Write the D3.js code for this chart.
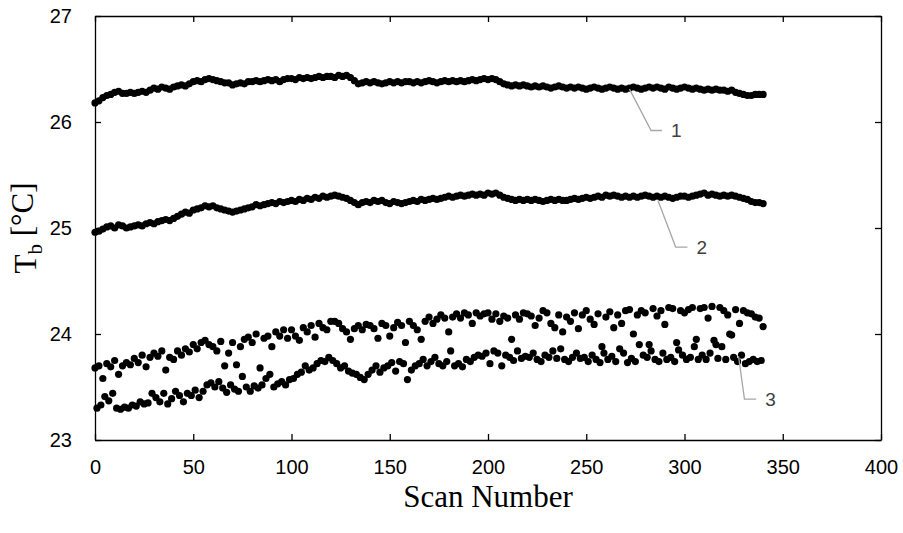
<!DOCTYPE html>
<html>
<head>
<meta charset="utf-8">
<script src="https://cdn.jsdelivr.net/npm/d3@7"></script>
<style>
  html, body { margin: 0; padding: 0; background: #fff; }
  svg { display: block; }
</style>
</head>
<body>
<svg id="chart" width="903" height="533"></svg>
<script>
// ---------------- DATA ----------------
const xTicks = [0, 50, 100, 150, 200, 250, 300, 350, 400];
const yTicks = [23, 24, 25, 26, 27];
const xTitle = "Scan Number";

// Series 1 (every 2nd scan, scans 0..340)
const series1 = [
  26.18, 26.20, 26.23, 26.25, 26.26, 26.28, 26.29, 26.27, 26.27, 26.28,
  26.27, 26.28, 26.29, 26.28, 26.30, 26.32, 26.31, 26.33, 26.32, 26.31,
  26.33, 26.34, 26.35, 26.34, 26.36, 26.38, 26.39, 26.38, 26.40, 26.41,
  26.40, 26.39, 26.38, 26.37, 26.37, 26.35, 26.36, 26.37, 26.36, 26.38,
  26.38, 26.39, 26.38, 26.39, 26.40, 26.39, 26.40, 26.38, 26.40, 26.41,
  26.41, 26.40, 26.42, 26.41, 26.42, 26.41, 26.42, 26.43, 26.42, 26.43,
  26.43, 26.42, 26.44, 26.43, 26.44, 26.42, 26.39, 26.36, 26.37, 26.38,
  26.37, 26.38, 26.37, 26.36, 26.37, 26.38, 26.37, 26.38, 26.37, 26.38,
  26.38, 26.37, 26.38, 26.37, 26.38, 26.39, 26.38, 26.37, 26.38, 26.39,
  26.38, 26.39, 26.38, 26.39, 26.38, 26.39, 26.40, 26.39, 26.40, 26.41,
  26.40, 26.41, 26.40, 26.38, 26.36, 26.35, 26.34, 26.35, 26.34, 26.35,
  26.34, 26.33, 26.34, 26.33, 26.34, 26.33, 26.32, 26.33, 26.34, 26.33,
  26.32, 26.33, 26.32, 26.33, 26.32, 26.31, 26.32, 26.33, 26.32, 26.31,
  26.32, 26.33, 26.32, 26.31, 26.32, 26.31, 26.32, 26.33, 26.32, 26.31,
  26.32, 26.33, 26.32, 26.33, 26.32, 26.31, 26.33, 26.32, 26.31, 26.32,
  26.33, 26.32, 26.31, 26.32, 26.31, 26.30, 26.31, 26.30, 26.31, 26.30,
  26.30, 26.29, 26.30, 26.28, 26.27, 26.26, 26.25, 26.25, 26.26, 26.26,
  26.26
];

// Series 2 (every 2nd scan, scans 0..340)
const series2 = [
  24.96, 24.97, 24.99, 25.01, 25.02, 25.00, 25.03, 25.02, 25.00, 25.01,
  25.02, 25.03, 25.02, 25.04, 25.05, 25.04, 25.06, 25.07, 25.08, 25.07,
  25.09, 25.11, 25.13, 25.15, 25.14, 25.17, 25.18, 25.19, 25.21, 25.20,
  25.21, 25.19, 25.18, 25.17, 25.16, 25.15, 25.16, 25.17, 25.18, 25.19,
  25.20, 25.22, 25.21, 25.22, 25.23, 25.24, 25.23, 25.25, 25.24, 25.25,
  25.26, 25.25, 25.27, 25.26, 25.28, 25.27, 25.29, 25.28, 25.30, 25.29,
  25.30, 25.31, 25.30, 25.29, 25.28, 25.26, 25.24, 25.22, 25.24, 25.25,
  25.24, 25.26, 25.25, 25.26, 25.24, 25.23, 25.25, 25.24, 25.23, 25.24,
  25.25, 25.26, 25.25, 25.27, 25.26, 25.27, 25.28, 25.27, 25.28, 25.29,
  25.30, 25.29, 25.30, 25.31, 25.30, 25.31, 25.32, 25.31, 25.32, 25.31,
  25.33, 25.32, 25.33, 25.31, 25.29, 25.28, 25.27, 25.26, 25.27, 25.26,
  25.27, 25.26, 25.27, 25.26, 25.25, 25.26, 25.27, 25.26, 25.27, 25.26,
  25.26, 25.27, 25.28, 25.27, 25.28, 25.29, 25.28, 25.29, 25.30, 25.29,
  25.31, 25.30, 25.31, 25.30, 25.29, 25.30, 25.29, 25.30, 25.29, 25.30,
  25.31, 25.30, 25.29, 25.30, 25.29, 25.30, 25.29, 25.28, 25.29, 25.30,
  25.30, 25.29, 25.30, 25.31, 25.32, 25.33, 25.31, 25.32, 25.31, 25.30,
  25.31, 25.30, 25.31, 25.30, 25.29, 25.28, 25.27, 25.25, 25.24, 25.24,
  25.23
];

// Series 3, even scans 0..340 (upper band)
const series3Even = [
  23.68, 23.70, 23.58, 23.72, 23.69, 23.75, 23.62, 23.70, 23.73, 23.71,
  23.77, 23.73, 23.80, 23.69, 23.78, 23.82, 23.79, 23.84, 23.66, 23.78,
  23.76, 23.84, 23.80, 23.86, 23.83, 23.90, 23.86, 23.92, 23.94, 23.90,
  23.88, 23.84, 23.93, 23.70, 23.82, 23.92, 23.71, 23.88, 23.95, 23.97,
  23.92, 24.00, 23.68, 23.96, 23.98, 23.88, 24.02, 23.98, 24.04, 23.96,
  24.04, 23.98, 23.94, 24.06, 24.02, 24.08, 23.97, 24.10, 24.06, 24.04,
  24.12, 24.12, 24.10, 24.05, 24.02, 23.95, 24.05, 24.08, 24.04, 24.09,
  24.08, 24.05, 23.96, 24.10, 24.08, 23.98, 24.06, 24.11, 24.08, 23.92,
  24.12, 24.08, 24.04, 23.95, 24.12, 24.16, 24.10, 24.14, 24.18, 24.15,
  24.02, 24.16, 24.19, 24.15, 24.20, 24.18, 24.10, 24.20, 24.17, 24.19,
  24.20, 24.14, 24.19, 24.12, 24.17, 24.15, 23.95, 24.18, 24.14, 24.20,
  24.19, 24.17, 24.08, 24.15, 24.22, 24.20, 24.10, 24.06, 24.18, 24.02,
  24.16, 24.12, 24.20, 24.05, 24.18, 24.22, 24.14, 24.09, 24.19, 23.88,
  24.16, 24.21, 24.06, 24.18, 24.10, 24.22, 24.23, 24.00, 24.18, 24.22,
  24.20, 23.90, 24.24, 24.17, 24.22, 24.09, 24.25, 24.24, 23.92, 24.22,
  24.20, 24.23, 24.25, 23.95, 24.24, 24.25, 24.15, 24.26, 23.90, 24.25,
  24.22, 24.18, 23.99, 24.23, 24.10, 24.22, 24.20, 24.19, 24.16, 24.15,
  24.07
];

// Series 3, odd scans 1..339 (lower band)
const series3Odd = [
  23.30, 23.33, 23.41, 23.37, 23.44, 23.30, 23.29, 23.31, 23.30, 23.33,
  23.32, 23.36, 23.34, 23.35, 23.44, 23.40, 23.36, 23.44, 23.34, 23.39,
  23.46, 23.42, 23.36, 23.44, 23.42, 23.47, 23.40, 23.46, 23.52, 23.54,
  23.50, 23.55, 23.49, 23.45, 23.52, 23.48, 23.46, 23.60, 23.50, 23.46,
  23.51, 23.49, 23.52, 23.58, 23.62, 23.50, 23.53, 23.55, 23.52, 23.57,
  23.58, 23.62, 23.64, 23.70, 23.66, 23.68, 23.72, 23.75, 23.74, 23.78,
  23.75, 23.72, 23.68, 23.70, 23.65, 23.63, 23.62, 23.59, 23.57, 23.62,
  23.66, 23.70, 23.64, 23.68, 23.70, 23.73, 23.65, 23.74, 23.72, 23.57,
  23.66, 23.70, 23.72, 23.76, 23.70, 23.74, 23.78, 23.72, 23.70, 23.74,
  23.84, 23.70, 23.72, 23.69, 23.76, 23.74, 23.78, 23.80, 23.79, 23.82,
  23.72, 23.84, 23.82, 23.70, 23.80, 23.78, 23.75, 23.84, 23.77, 23.79,
  23.78, 23.82, 23.76, 23.74, 23.80, 23.78, 23.84, 23.77, 23.86, 23.76,
  23.74, 23.78, 23.82, 23.77, 23.78, 23.74, 23.80, 23.76, 23.73, 23.82,
  23.76, 23.79, 23.74, 23.86, 23.82, 23.73, 23.77, 23.74, 23.90, 23.80,
  23.78, 23.84, 23.76, 23.74, 23.82, 23.76, 23.78, 23.74, 23.85, 23.80,
  23.76, 23.78, 23.88, 23.76, 23.80, 23.76, 23.82, 23.94, 23.77, 23.88,
  23.76, 24.00, 23.78, 23.74, 23.80, 23.72, 23.74, 23.76, 23.74, 23.75
];

// Callout labels (anchor on series, bend, end of leader)
const callouts = [
  { label: "1", at: [272, 26.31], bend: [283, 25.92], end: [288.5, 25.92] },
  { label: "2", at: [286.5, 25.26], bend: [295.5, 24.82], end: [301.5, 24.82] },
  { label: "3", at: [327.5, 23.79], bend: [330.5, 23.385], end: [336.5, 23.385] }
];

// ---------------- CHART ----------------
const svg = d3.select("#chart");
const margin = { left: 95, top: 16, right: 903 - 881, bottom: 533 - 440 };
const W = 903 - margin.left - margin.right;
const H = 533 - margin.top - margin.bottom;

const x = d3.scaleLinear().domain([0, 400]).range([0, W]);
const y = d3.scaleLinear().domain([23, 27]).range([H, 0]);

const g = svg.append("g").attr("transform", `translate(${margin.left},${margin.top})`);

const tickFont = "'Liberation Sans', Arial, sans-serif";
const serif = "'Liberation Serif', 'Times New Roman', serif";

function styleAxis(sel) {
  sel.select(".domain").attr("stroke", "#000").attr("stroke-width", 1.3);
  sel.selectAll(".tick line").attr("stroke", "#000").attr("stroke-width", 1.3);
  sel.selectAll(".tick text").attr("fill", "#000")
    .style("font-family", tickFont).style("font-size", "20px");
}

g.append("g").attr("transform", `translate(0,${H})`)
  .call(d3.axisBottom(x).tickValues(xTicks).tickFormat(d3.format("d"))
    .tickSizeInner(-6).tickSizeOuter(0).tickPadding(20))
  .call(styleAxis);
g.append("g")
  .call(d3.axisTop(x).tickValues(xTicks).tickSizeInner(-6).tickSizeOuter(0).tickFormat(""))
  .call(styleAxis);
g.append("g")
  .call(d3.axisLeft(y).tickValues(yTicks).tickFormat(d3.format("d"))
    .tickSizeInner(-6).tickSizeOuter(0).tickPadding(23))
  .call(styleAxis);
g.append("g").attr("transform", `translate(${W},0)`)
  .call(d3.axisRight(y).tickValues(yTicks).tickSizeInner(-6).tickSizeOuter(0).tickFormat(""))
  .call(styleAxis);

// points
const pts1 = series1.map((v, i) => ({ s: i * 2, t: v }));
const pts2 = series2.map((v, i) => ({ s: i * 2, t: v }));
const pts3 = series3Even.map((v, i) => ({ s: i * 2, t: v }))
  .concat(series3Odd.map((v, i) => ({ s: i * 2 + 1, t: v })));

[pts1, pts2, pts3].forEach(pts => {
  g.append("g").selectAll("circle").data(pts).join("circle")
    .attr("cx", d => x(d.s)).attr("cy", d => y(d.t)).attr("r", 3.6).attr("fill", "#000");
});

// callouts
callouts.forEach(c => {
  g.append("polyline")
    .attr("points", [c.at, c.bend, c.end].map(p => `${x(p[0])},${y(p[1])}`).join(" "))
    .attr("fill", "none").attr("stroke", "#a6a6a6").attr("stroke-width", 1.3);
  g.append("text")
    .attr("x", x(c.end[0]) + 9).attr("y", y(c.end[1]))
    .attr("dy", "0.36em")
    .style("font-family", tickFont).style("font-size", "19px")
    .attr("fill", "#404040").text(c.label);
});

// axis titles
svg.append("text")
  .attr("x", margin.left + W / 2).attr("y", 507)
  .attr("text-anchor", "middle")
  .style("font-family", serif).style("font-size", "31px")
  .text(xTitle);

const yt = svg.append("text")
  .attr("transform", `translate(36,${margin.top + H / 2}) rotate(-90)`)
  .attr("text-anchor", "middle")
  .style("font-family", serif).style("font-size", "31px");
yt.append("tspan").text("T");
yt.append("tspan").attr("dy", "0.3em").style("font-size", "21px").text("b");
yt.append("tspan").attr("dy", "-0.3em").text(" [°C]");
</script>
</body>
</html>
